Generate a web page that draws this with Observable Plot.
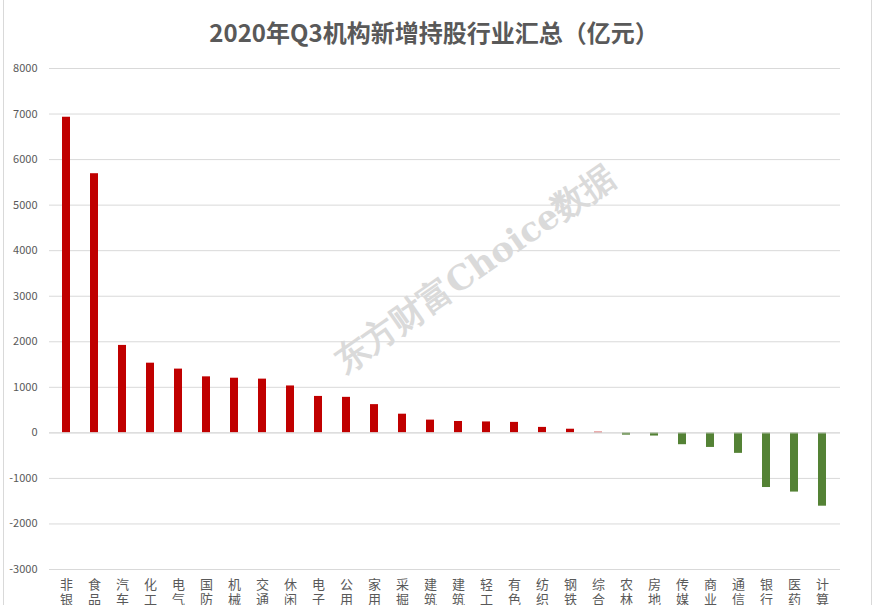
<!DOCTYPE html>
<html>
<head>
<meta charset="utf-8">
<script src="https://cdn.jsdelivr.net/npm/d3@7"></script>
<script src="https://cdn.jsdelivr.net/npm/@observablehq/plot@0.6"></script>
<style>
  html, body { margin: 0; padding: 0; background: #fff; }
  #wrap { position: relative; width: 878px; height: 605px; overflow: hidden; font-family: "Noto Sans CJK SC", sans-serif; }
  #title { position: absolute; left: 0; width: 868px; top: 14px; text-align: center; font-size: 24px; font-weight: bold; color: #595959; line-height: 36px; }
  #frame { position: absolute; left: 3px; top: -2px; width: 869px; height: 620px; border: 1px solid #d9d9d9; box-sizing: border-box; pointer-events: none; }
  #chart { position: absolute; left: 0; top: 0; }
</style>
</head>
<body>
<div id="wrap">
  <div id="chart"></div>
  <div id="title">2020年Q3机构新增持股行业汇总（亿元）</div>
  <div id="frame"></div>
</div>
<script>
const industries = ["非银金融","食品饮料","汽车","化工","电气设备","国防军工","机械设备","交通运输","休闲服务","电子","公用事业","家用电器","采掘","建筑装饰","建筑材料","轻工制造","有色金属","纺织服装","钢铁","综合","农林牧渔","房地产","传媒","商业贸易","通信","银行","医药生物","计算机"];
const values = [6930, 5690, 1920, 1530, 1400, 1230, 1200, 1180, 1030, 800, 780, 620, 410, 280, 250, 240, 230, 120, 80, 15, -50, -70, -260, -320, -450, -1200, -1300, -1610];
const yTicks = [-3000, -2000, -1000, 0, 1000, 2000, 3000, 4000, 5000, 6000, 7000, 8000];
const watermark = "东方财富Choice数据";

const data = industries.map((name, i) => ({name, value: values[i]}));

const chart = Plot.plot({
  width: 878,
  height: 605,
  marginLeft: 49,
  marginRight: 38,
  marginTop: 68,
  marginBottom: 36,
  style: {fontFamily: "'Noto Sans CJK SC', sans-serif", background: "transparent"},
  x: {domain: industries, paddingInner: 0.7, paddingOuter: 0.35, label: null},
  y: {domain: [-3000, 8000], label: null},
  marks: [
    Plot.gridY(yTicks, {stroke: "#d9d9d9", strokeOpacity: 1, strokeWidth: 1}),
    Plot.text([watermark], {
      frameAnchor: "middle", dx: 30, dy: -50, rotate: -35,
      fontSize: 34, fontWeight: "bold", fill: "#dadada",
      fontFamily: "'DejaVu Serif', serif"
    }),
    Plot.barY(data, {x: "name", y: "value", fill: d => d.value >= 0 ? "#c00000" : "#548235"}),
    Plot.ruleY([0], {stroke: "#d9d9d9"}),
    Plot.axisY({ticks: yTicks, tickSize: 0, tickPadding: 12, fontSize: 11, fill: "#595959", tickFormat: d => String(d)}),
    Plot.axisX({tickSize: 0, tickPadding: 9, fontSize: 13, fill: "#595959", lineHeight: 1.15,
      tickFormat: d => Array.from(d).join("\n"), textAnchor: "middle"})
  ]
});
document.getElementById("chart").appendChild(chart);
</script>
</body>
</html>
